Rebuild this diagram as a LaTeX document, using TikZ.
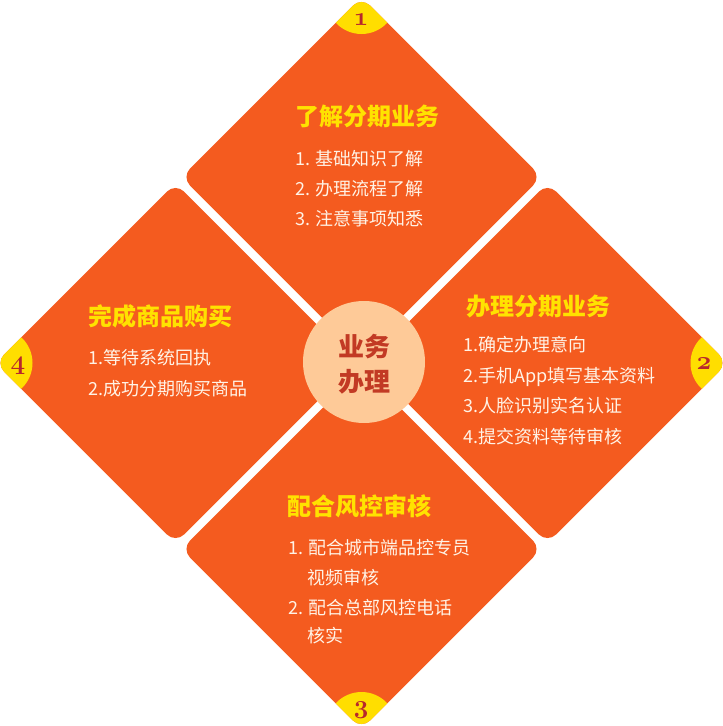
\documentclass[tikz,border=0pt]{standalone}
\usepackage{fontspec}
\setmainfont{Noto Sans CJK SC}
\newfontfamily\numfont[Numbers=OldStyle]{Latin Modern Roman}
\definecolor{petalorange}{HTML}{F45B1F}
\definecolor{badgeyellow}{HTML}{FFDE00}
\definecolor{titleyellow}{HTML}{FFE200}
\definecolor{numred}{HTML}{B8282C}
\definecolor{hubpeach}{HTML}{FECA98}
\definecolor{hubred}{HTML}{C23A24}
\definecolor{itemwhite}{HTML}{FFF3E6}
\newcommand\petalpath[1]{([yshift=180pt]#1) -- ([xshift=180pt]#1) -- ([yshift=-180pt]#1) -- ([xshift=-180pt]#1) -- cycle}
\begin{document}
\begin{tikzpicture}[x=1pt,y=-1pt,
  petal/.style={fill=petalorange, rounded corners=12pt},
  badge/.style={fill=badgeyellow},
  num/.style={font=\numfont\bfseries\fontsize{26}{26}\selectfont, text=numred, anchor=base, inner sep=0pt},
  ttl/.style={font=\bfseries\fontsize{24}{30}\selectfont, text=titleyellow, anchor=west, inner sep=0pt, text height=0.88em, text depth=0.12em},
  itm/.style={font=\fontsize{18}{30}\selectfont, text=itemwhite, anchor=west, inner sep=0pt, text height=0.88em, text depth=0.12em}]
\useasboundingbox (0,0) rectangle (723,726);
\coordinate (ptop) at (361.5,177);
\coordinate (pright) at (547.5,363);
\coordinate (pbottom) at (361.5,549);
\coordinate (pleft) at (175.5,363);
% petals
\fill[petal] \petalpath{ptop};
\fill[petal] \petalpath{pright};
\fill[petal] \petalpath{pbottom};
\fill[petal] \petalpath{pleft};
% badges
\begin{scope}
  \clip[rounded corners=12pt] \petalpath{ptop};
  \fill[badge] ([yshift=178pt]ptop) circle[radius=35pt];
\end{scope}
\begin{scope}
  \clip[rounded corners=12pt] \petalpath{pright};
  \fill[badge] ([xshift=178pt]pright) circle[radius=35pt];
\end{scope}
\begin{scope}
  \clip[rounded corners=12pt] \petalpath{pbottom};
  \fill[badge] ([yshift=-178pt]pbottom) circle[radius=35pt];
\end{scope}
\begin{scope}
  \clip[rounded corners=12pt] \petalpath{pleft};
  \fill[badge] ([xshift=-178pt]pleft) circle[radius=35pt];
\end{scope}
\node[num] (n1) at (361,25) {1};
\node[num] (n2) at (704,369) {2};
\node[num] (n3) at (361,713) {3};
\node[num] (n4) at (18,369) {4};
% hub
\node[circle, fill=hubpeach, minimum size=122pt, inner sep=0pt] (hub) at (364,362) {};
\node[text=hubred, font=\bfseries\fontsize{26}{35}\selectfont, align=center, inner sep=0pt]
      (hubtext) at ([yshift=-2pt]hub.center) {业务\\办理};
% top petal text
\node[ttl] (t1) at (295,122) {了解分期业务};
\node[itm] (a1) at (295,162) {1. 基础知识了解};
\node[itm] (a2) at (295,192) {2. 办理流程了解};
\node[itm] (a3) at (295,222) {3. 注意事项知悉};
% right petal text
\node[ttl] (t2) at (466,312) {办理分期业务};
\node[itm] (b1) at (463,348) {1.确定办理意向};
\node[itm] (b2) at (463,379) {2.手机App填写基本资料};
\node[itm] (b3) at (463,409) {3.人脸识别实名认证};
\node[itm] (b4) at (463,440) {4.提交资料等待审核};
% bottom petal text
\node[ttl] (t3) at (287,512) {配合风控审核};
\node[itm] (c1) at (288,551) {1. 配合城市端品控专员};
\node[itm] (c2) at (307,581) {视频审核};
\node[itm] (c3) at (288,611) {2. 配合总部风控电话};
\node[itm] (c4) at (307,639) {核实};
% left petal text
\node[ttl] (t4) at (88,322) {完成商品购买};
\node[itm] (d1) at (88,361) {1.等待系统回执};
\node[itm] (d2) at (88,392) {2.成功分期购买商品};
\end{tikzpicture}
\end{document}
